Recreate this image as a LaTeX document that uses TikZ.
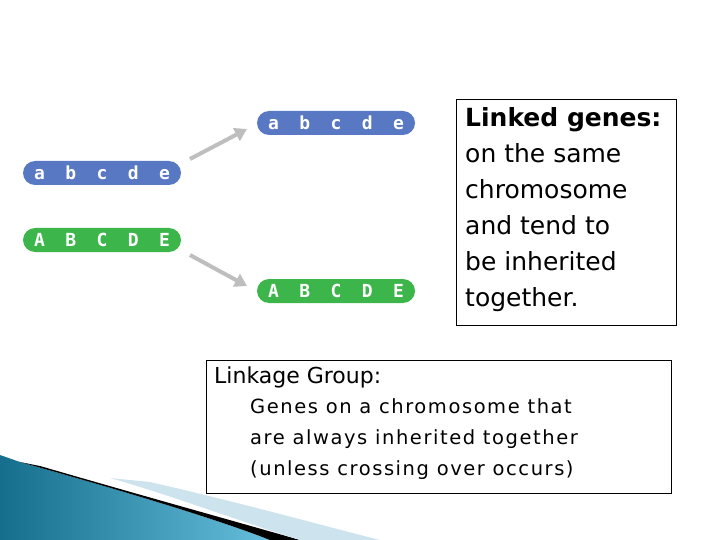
\documentclass[tikz,border=0pt]{standalone}
\usepackage{fontspec}
\usetikzlibrary{arrows.meta}
\setmainfont{DejaVu Sans}
\newfontfamily\chromfont{DejaVu Sans Mono}
\definecolor{chblue}{RGB}{88,120,196}
\definecolor{chgreen}{RGB}{60,182,74}
\definecolor{arrgray}{RGB}{190,190,190}
\definecolor{decdark}{RGB}{20,110,140}
\definecolor{declight}{RGB}{100,190,220}
\definecolor{decpale}{RGB}{205,228,238}
\newcommand{\chromtext}[5]{\makebox[136pt]{#1\hfill#2\hfill#3\hfill#4\hfill#5}}
\begin{document}
\begin{tikzpicture}[x=1pt,y=-1pt,
  chrom/.style={rounded corners=12pt,minimum width=158pt,minimum height=24pt,inner sep=0pt,text=white,font=\chromfont\bfseries\fontsize{18}{18}\selectfont},
  bluech/.style={chrom,fill=chblue},
  greench/.style={chrom,fill=chgreen},
  arr/.style={draw=arrgray,line width=4pt,-{Triangle[length=12pt,width=14pt]}},
  box/.style={draw=black,line width=0.6pt,anchor=north west}]
\path[use as bounding box] (0,0) rectangle (720,540);
% decoration
\shade[left color=decdark,right color=declight] (0,455) -- (20,462) .. controls (120,490) and (220,520) .. (270,540) -- (0,540) -- cycle;
\fill[black] (20,462) -- (40,466) .. controls (140,495) and (230,520) .. (300,540) -- (270,540) .. controls (220,520) and (120,490) .. (20,462) -- cycle;
\fill[decpale] (110,478) -- (150,482) .. controls (250,505) and (320,525) .. (380,540) -- (300,540) .. controls (230,518) and (170,495) .. (110,478) -- cycle;
% chromosomes
\node[bluech] (tr) at (336,123) {\chromtext abcde};
\node[bluech] (lb) at (102,173) {\chromtext abcde};
\node[greench] (lg) at (102,240) {\chromtext ABCDE};
\node[greench] (br) at (336,291) {\chromtext ABCDE};
\coordinate (a1s) at (190,159); \coordinate (a1e) at (247,129);
\coordinate (a2s) at (190,255); \coordinate (a2e) at (247,286);
\draw[arr] (a1s) -- (a1e);
\draw[arr] (a2s) -- (a2e);
% text boxes
\node[box,minimum width=220pt,minimum height=226pt,inner sep=0pt] (b1) at (456,99) {};
\node[anchor=north west,align=left,inner sep=0pt,font=\fontsize{25}{36}\selectfont] (t1) at (465,107) {\textbf{Linked genes:}\\on the same\\chromosome\\and tend to\\be inherited\\together.};
\node[box,minimum width=465pt,minimum height=133pt,inner sep=0pt] (b2) at (206,360) {};
\node[anchor=north west,inner sep=0pt,font=\fontsize{22}{24}\selectfont] (t2) at (214,367) {Linkage Group:};
\node[anchor=north west,align=left,inner sep=0pt,font=\addfontfeature{LetterSpace=8}\fontsize{19.5}{31}\selectfont] (t3) at (250,398) {Genes on a chromosome that\\are always inherited together\\(unless crossing over occurs)};
\end{tikzpicture}
\end{document}
